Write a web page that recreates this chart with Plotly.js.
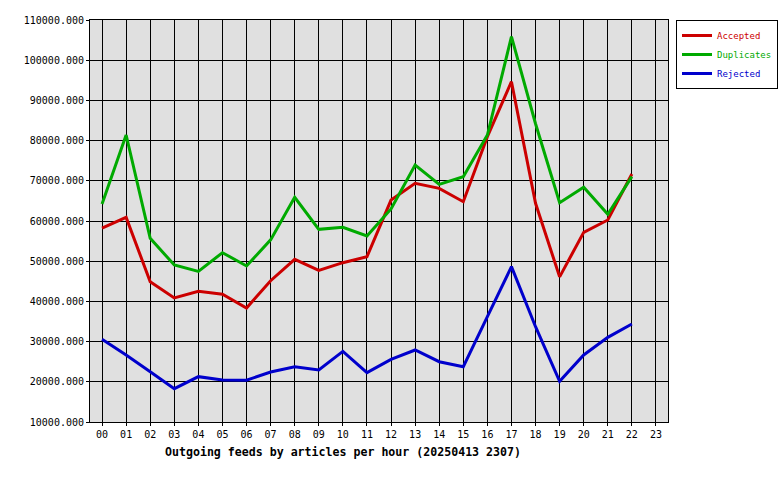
<!DOCTYPE html>
<html>
<head>
<meta charset="utf-8">
<script src="https://cdn.plot.ly/plotly-3.0.1.min.js"></script>
<style>html,body{margin:0;padding:0;background:#fff;}#chart{width:780px;height:480px;}</style>
</head>
<body>
<div id="chart"></div>
<script>
var hours = ["00","01","02","03","04","05","06","07","08","09","10","11","12","13","14","15","16","17","18","19","20","21","22","23"];
var accepted   = [58200,60900,44900,40850,42500,41760,38360,45150,50470,47730,49630,51120,65200,69370,68130,64800,80980,94660,64400,46100,57180,60250,71690];
var duplicates = [64230,81390,55700,49050,47480,52120,48810,55300,65890,57930,58420,56270,63000,73930,69120,71030,81390,105850,84200,64560,68380,61660,71030];
var rejected   = [30560,26670,22520,18290,21280,20450,20400,22440,23760,22940,27580,22270,25590,27910,25000,23760,36200,48640,33710,20120,26670,31060,34380];
var seriesNames = ["Accepted","Duplicates","Rejected"];
var seriesColors = ["#cc0000","#00aa00","#0000cc"];
var tickVals = [10000,20000,30000,40000,50000,60000,70000,80000,90000,100000,110000];

var mono = "DejaVu Sans Mono, Liberation Mono, monospace";
var data = [accepted, duplicates, rejected].map(function(vals, i){
  return {
    x: hours.slice(0, vals.length),
    y: vals,
    type: "scatter",
    mode: "lines+markers",
    name: '<span style="color:' + seriesColors[i] + '">' + seriesNames[i] + '</span>',
    line: {color: seriesColors[i], width: 3},
    marker: {symbol: "square-open", size: vals.map(function(){return 0;}), color: seriesColors[i], line: {width: 1, color: seriesColors[i]}},
    hoverinfo: "x+y"
  };
});

var layout = {
  width: 780, height: 480,
  margin: {l: 90, r: 112, t: 20, b: 58, autoexpand: false},
  paper_bgcolor: "#ffffff",
  plot_bgcolor: "#e0e0e0",
  font: {family: mono, size: 10, color: "#000"},
  title: {
    text: "<b>Outgoing feeds by articles per hour (20250413 2307)</b>",
    font: {family: mono, size: 11.6, color: "#000"},
    xref: "container", yref: "container",
    x: 343/780, xanchor: "center",
    y: 1 - 452/480, yanchor: "middle"
  },
  xaxis: {
    type: "category",
    categoryorder: "array", categoryarray: hours,
    tickvals: hours, ticktext: hours,
    range: [-0.5, 23.5],
    showgrid: true, gridcolor: "#000", gridwidth: 1,
    showline: true, linecolor: "#000", linewidth: 1, mirror: true,
    ticks: "outside", ticklen: 3, tickcolor: "#000",
    tickfont: {family: mono, size: 10, color: "#000"},
    zeroline: false, fixedrange: true, automargin: false
  },
  yaxis: {
    range: [10000, 110000],
    tickvals: tickVals,
    tickformat: ".3f",
    showgrid: true, gridcolor: "#000", gridwidth: 1,
    showline: true, linecolor: "#000", linewidth: 1, mirror: true,
    ticks: "outside", ticklen: 3, tickcolor: "#000",
    tickfont: {family: mono, size: 10, color: "#000"},
    zeroline: false, fixedrange: true, automargin: false
  },
  showlegend: true,
  legend: {
    x: (676-90)/578, xanchor: "left",
    y: 1, yanchor: "top",
    bgcolor: "#ffffff", bordercolor: "#000", borderwidth: 1,
    font: {family: mono, size: 9},
    itemwidth: 30,
    tracegroupgap: 0
  }
};

Plotly.newPlot("chart", data, layout, {displayModeBar: false, staticPlot: true});
</script>
</body>
</html>
